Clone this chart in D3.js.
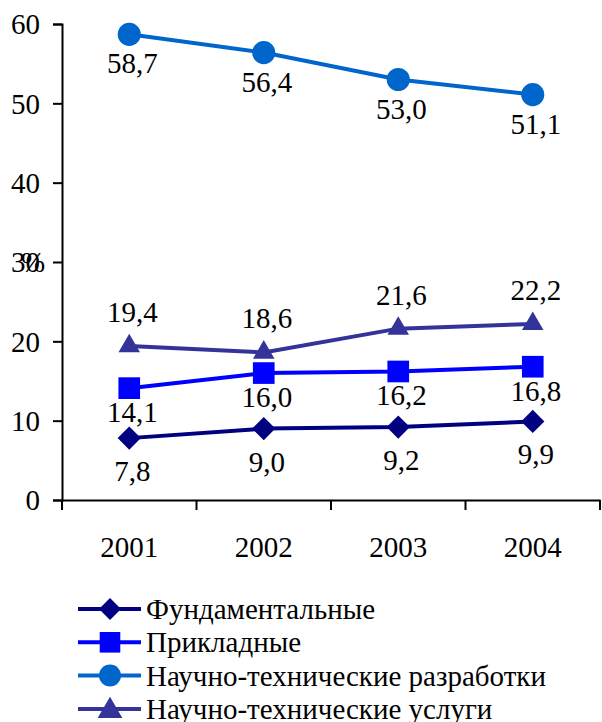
<!DOCTYPE html>
<html>
<head>
<meta charset="utf-8">
<script src="https://cdn.jsdelivr.net/npm/d3@7"></script>
<style>
  body { margin: 0; background: #fff; }
  svg, svg text, svg g { font-family: "Liberation Serif", "Times New Roman", Tinos, serif !important; }
</style>
</head>
<body>
<script>
const years = ["2001", "2002", "2003", "2004"]
const yTicks = [0, 10, 20, 30, 40, 50, 60]

const fundamental = [7.8, 9.0, 9.2, 9.9]
const applied = [14.1, 16.0, 16.2, 16.8]
const development = [58.7, 56.4, 53.0, 51.1]
const services = [19.4, 18.6, 21.6, 22.2]

const seriesNames = [
  "Фундаментальные",
  "Прикладные",
  "Научно-технические разработки",
  "Научно-технические услуги"
]

const FONT = "\"Liberation Serif\""
const width = 602
const height = 722
const margin = { top: 24, right: 2, bottom: 222, left: 62 }

const series = [
  { name: seriesNames[0], values: fundamental, color: "#000080", shape: "diamond", labelDy: 43 },
  { name: seriesNames[1], values: applied, color: "#0000FF", shape: "square", labelDy: 34 },
  { name: seriesNames[2], values: development, color: "#0066CC", shape: "circle", labelDy: 39 },
  { name: seriesNames[3], values: services, color: "#333399", shape: "triangle", labelDy: -24 }
]

const svg = d3.select("body")
  .append("svg")
  .attr("width", width)
  .attr("height", height)

const x = d3.scaleBand()
  .domain(years)
  .range([margin.left, width - margin.right])

const y = d3.scaleLinear()
  .domain([0, 60])
  .range([height - margin.bottom, margin.top])

// put every label in the serif face used by the original
function serif(sel, size) {
  return sel
    .attr("font-family", FONT)
    .attr("font-size", size)
    .attr("style", `font-family: "Liberation Serif" !important; font-size: ${size}px`)
}

// Y axis
const yAxis = svg.append("g")
  .attr("transform", `translate(${margin.left},0)`)
  .call(d3.axisLeft(y).tickValues(yTicks).tickSize(9).tickPadding(13).tickFormat(d3.format("d")))
yAxis.attr("font-family", null)
yAxis.select(".domain").attr("stroke", "#000").attr("stroke-width", 2)
yAxis.selectAll("line").attr("stroke", "#000").attr("stroke-width", 2)
serif(yAxis.selectAll("text"), 29)
  .attr("fill", "#000")
  .attr("dy", "0.34em")

// "%" label sitting on the 30 tick, as in the original
serif(svg.append("text"), 29)
  .attr("x", 33)
  .attr("y", y(30) + 10)
  .attr("text-anchor", "middle")
  .text("%")

// X axis
const xAxis = svg.append("g")
  .attr("transform", `translate(0,${y(0)})`)
  .call(d3.axisBottom(x).tickSize(0).tickPadding(36))
xAxis.attr("font-family", null)
xAxis.select(".domain").attr("stroke", "#000").attr("stroke-width", 2)
serif(xAxis.selectAll("text"), 29).attr("fill", "#000")

// category boundary ticks
const bounds = years.map(d => x(d)).concat([x(years[years.length - 1]) + x.bandwidth()])
svg.append("g")
  .selectAll("line")
  .data(bounds)
  .enter()
  .append("line")
  .attr("x1", d => d)
  .attr("x2", d => d)
  .attr("y1", y(0))
  .attr("y2", y(0) + 10)
  .attr("stroke", "#000")
  .attr("stroke-width", 2)

const cx = d => x(d) + x.bandwidth() / 2

const line = d3.line()
  .x((d, i) => cx(years[i]))
  .y(d => y(d))

function markerPath(shape, scale) {
  const k = scale || 1
  if (shape === "diamond") return d3.symbol().type(d3.symbolSquare).size(270 * k * k)()
  if (shape === "square") return d3.symbol().type(d3.symbolSquare).size(470 * k * k)()
  if (shape === "circle") return d3.symbol().type(d3.symbolCircle).size(420 * k * k)()
  return d3.symbol().type(d3.symbolTriangle).size(200 * k * k)()
}

series.forEach(s => {
  const g = svg.append("g")

  g.append("path")
    .datum(s.values)
    .attr("fill", "none")
    .attr("stroke", s.color)
    .attr("stroke-width", 4)
    .attr("d", line)

  g.selectAll(".marker")
    .data(s.values)
    .enter()
    .append("path")
    .attr("class", "marker")
    .attr("d", markerPath(s.shape))
    .attr("fill", s.color)
    .attr("transform", (d, i) => {
      const rot = s.shape === "diamond" ? " rotate(45)" : ""
      return `translate(${cx(years[i])},${y(d)})${rot}`
    })

  serif(g.selectAll(".value")
    .data(s.values)
    .enter()
    .append("text")
    .attr("class", "value"), 29)
    .attr("x", (d, i) => cx(years[i]) + 3)
    .attr("y", d => y(d) + s.labelDy)
    .attr("text-anchor", "middle")
    .text(d => d.toFixed(1).replace(".", ","))
})

// Legend
const legend = svg.append("g")
  .attr("transform", "translate(78,609)")

series.forEach((s, i) => {
  const row = legend.append("g").attr("transform", `translate(0,${i * 33.3})`)
  row.append("line")
    .attr("x1", 0)
    .attr("x2", 63)
    .attr("stroke", s.color)
    .attr("stroke-width", 4)
  row.append("path")
    .attr("d", markerPath(s.shape, s.shape === "triangle" ? 1.15 : 0.95))
    .attr("fill", s.color)
    .attr("transform", `translate(32,${s.shape === "triangle" ? 2 : 0})${s.shape === "diamond" ? " rotate(45)" : ""}`)
  serif(row.append("text"), 29)
    .attr("x", 68)
    .attr("y", 10)
    .text(s.name)
})
</script>
</body>
</html>
